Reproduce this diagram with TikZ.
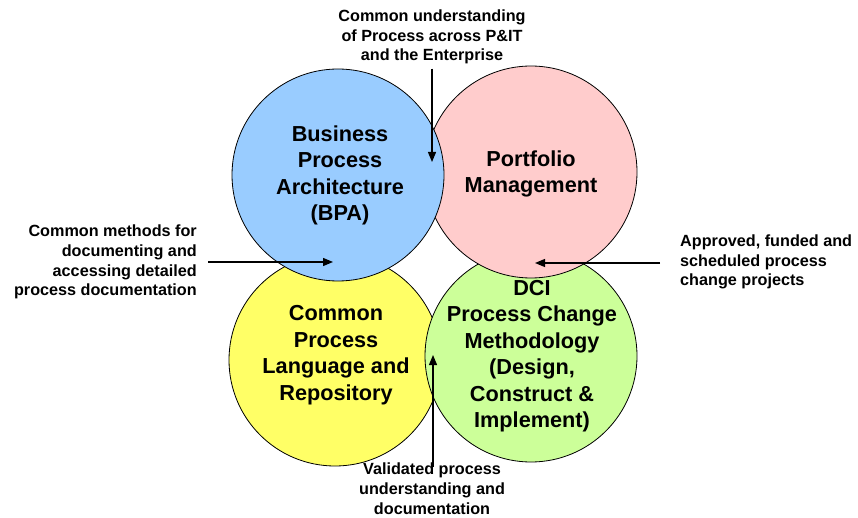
\documentclass[tikz,border=0pt]{standalone}
\usepackage{fontspec}
\setmainfont{Liberation Sans}
\usetikzlibrary{arrows.meta}
\definecolor{bpablue}{HTML}{99CCFF}
\definecolor{pfpink}{HTML}{FFCCCC}
\definecolor{cplyellow}{HTML}{FFFF66}
\definecolor{dcigreen}{HTML}{CCFF99}
\begin{document}
\begin{tikzpicture}[x=1pt,y=-1pt,
  disc/.style={circle,draw=black,line width=0.8pt,minimum size=212pt,inner sep=0pt},
  title/.style={align=center,inner sep=0pt,font=\bfseries\fontsize{21.7}{26.5}\selectfont},
  note/.style={font=\bfseries\fontsize{16.2}{19.8}\selectfont,inner sep=0pt},
  arr/.style={line width=1.2pt,-{Triangle[length=10pt,width=8pt]}}]
\useasboundingbox (0,0) rectangle (858,518);
% the four process areas, back to front
\node[disc,fill=cplyellow] (cpl) at (335,360) {};
\node[disc,fill=dcigreen] (dci) at (531,356) {};
\node[disc,fill=pfpink] (pf) at (531,172) {};
\node[disc,fill=bpablue] (bpa) at (338,175) {};
% area titles
\node[title] (cplt) at (336,355) {Common\\Process\\Language and\\Repository};
\node[title] (dcit) at (532,356) {DCI\\Process Change\\Methodology\\(Design,\\Construct \&\\Implement)};
\node[title] (pft) at (531,174) {Portfolio\\Management};
\node[title] (bpat) at (340,175.5) {Business\\Process\\Architecture\\(BPA)};
% annotations
\node[note,align=center] (ntop) at (432,37) {Common understanding\\of Process across P\&IT\\and the Enterprise};
\node[note,align=right,anchor=east] (nleft) at (197,262) {Common methods for\\documenting and\\accessing detailed\\process documentation};
\node[note,align=left,anchor=west] (nright) at (680,262) {Approved, funded and\\scheduled process\\change projects};
\node[note,align=center] (nbot) at (432,489) {Validated process\\understanding and\\documentation};
% arrow tips
\coordinate (ttop) at (432,162);
\coordinate (tleft) at (333,262);
\coordinate (tright) at (535,263);
\coordinate (tbot) at (433,355);
\draw[arr] (ntop.south -| ttop) ++(0,4) -- (ttop);
\draw[arr] ([xshift=11pt]nleft.east) -- (tleft);
\draw[arr] ([xshift=-20pt]nright.west |- tright) -- (tright);
\draw[arr] ([yshift=-4pt]nbot.north -| tbot) -- (tbot);
\end{tikzpicture}
\end{document}
